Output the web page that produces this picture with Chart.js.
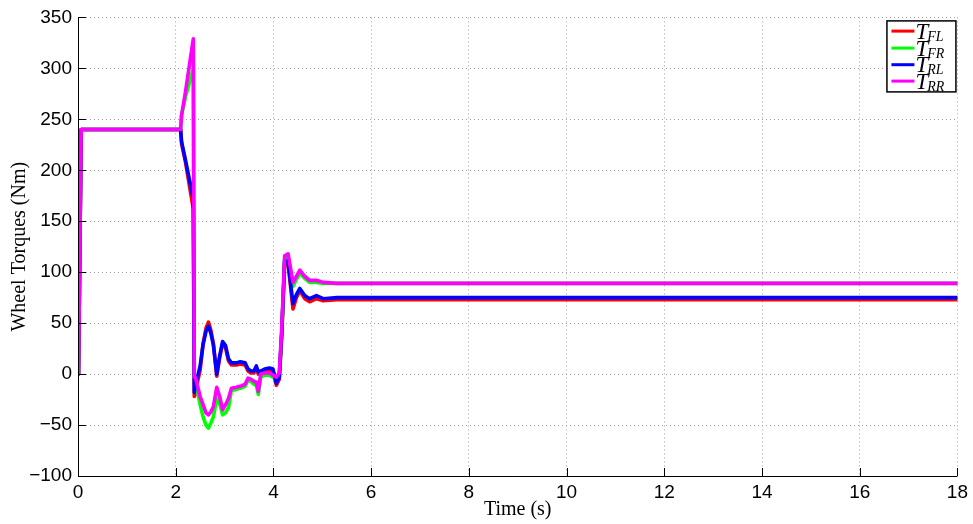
<!DOCTYPE html>
<html>
<head>
<meta charset="utf-8">
<script src="https://cdn.jsdelivr.net/npm/chart.js@4.4.1/dist/chart.umd.min.js"></script>
<style>
  html, body { margin: 0; padding: 0; background: #ffffff; }
  #wrap { width: 973px; height: 524px; }
</style>
</head>
<body>
<div id="wrap"><canvas id="c" width="973" height="524"></canvas></div>
<script>
// Sample times (s), shared by all four wheel torque traces
const timeS = [
  0.01, 0.065, 2.10, 2.12, 2.20, 2.36, 2.38, 2.40, 2.45, 2.50,
  2.56, 2.62, 2.67, 2.72, 2.77, 2.84, 2.90, 2.96, 3.02, 3.08,
  3.14, 3.24, 3.32, 3.42, 3.48, 3.54, 3.60, 3.65, 3.69, 3.74,
  3.82, 3.92, 3.99, 4.06, 4.12, 4.17, 4.23, 4.30, 4.40, 4.47,
  4.54, 4.64, 4.74, 4.88, 5.02, 5.30, 18
];

// Wheel torques (Nm)
const torqueFL = [
  0, 240, 240, 226, 208, 162, -22, -20, -7, 4,
  30, 45, 51, 43, 30, -2, 16, 30, 26, 13,
  9, 9, 10, 9, 3, 1, 1, 6, 0, 1,
  3, 4, 3, -11, -5, 38, 110, 108, 64, 75,
  82, 74, 71, 74, 72, 73, 73
];
const torqueFR = [
  0, 240, 240, 254, 272, 300, -5, -4, -18, -30,
  -42, -50, -53, -48, -42, -24, -29, -40, -38, -33,
  -16, -15, -14, -12, -6, -7, -10, -11, -20, -3,
  -1, -1, -3, -5, -1, 40, 114, 116, 86, 93,
  99, 94, 90, 90, 89, 89, 89
];
const torqueRL = [
  0, 240, 240, 228, 210, 172, -18, -12, -2, 8,
  29, 42, 47, 40, 29, 0, 18, 32, 28, 15,
  11, 11, 12, 11, 5, 3, 3, 8, 2, 3,
  5, 6, 5, -9, -3, 40, 112, 110, 69, 78,
  84, 77, 74, 77, 74, 75, 75
];
const torqueRR = [
  0, 240, 240, 254, 277, 329, -3, -3, -12, -22,
  -30, -38, -40, -37, -32, -13, -22, -35, -30, -24,
  -14, -13, -12, -10, -4, -5, -7, -8, -17, 0,
  1, 1, -1, -3, 1, 45, 116, 118, 90, 96,
  102, 96, 92, 92, 90, 89, 89
];

const seriesSubs = ['FL', 'FR', 'RL', 'RR'];
const seriesColors = ['#ff0000', '#00ff00', '#0000ff', '#ff00ff'];
const xTicks = [0, 2, 4, 6, 8, 10, 12, 14, 16, 18];
const yTicks = [-100, -50, 0, 50, 100, 150, 200, 250, 300, 350];

const seriesValues = [torqueFL, torqueFR, torqueRL, torqueRR];

const datasets = seriesValues.map((vals, i) => ({
  label: 'T_' + seriesSubs[i],
  data: vals.map((v, k) => ({ x: timeS[k], y: v })),
  borderColor: seriesColors[i],
  backgroundColor: seriesColors[i],
  borderWidth: 3.6,
  pointRadius: 0,
  tension: 0,
  fill: false,
  borderJoinStyle: 'round',
  borderCapStyle: 'round',
  order: 3 - i            // later wheels drawn on top
}));

const minus = s => String(s).replace('-', '\u2212');

// Axis lines, inward tick marks and the subscripted legend box
const axesAndLegend = {
  id: 'axesAndLegend',
  afterDraw(chart) {
    const { ctx, chartArea: a, scales } = chart;
    ctx.save();
    ctx.strokeStyle = '#000';
    ctx.lineWidth = 1;
    ctx.beginPath();
    ctx.moveTo(a.left + 0.5, a.top);
    ctx.lineTo(a.left + 0.5, a.bottom + 0.5);
    ctx.lineTo(a.right, a.bottom + 0.5);
    ctx.stroke();
    const tl = 8;
    ctx.beginPath();
    yTicks.forEach(v => {
      const py = Math.round(scales.y.getPixelForValue(v)) + 0.5;
      ctx.moveTo(a.left, py);
      ctx.lineTo(a.left + tl, py);
    });
    xTicks.forEach(v => {
      const px = Math.round(scales.x.getPixelForValue(v)) + 0.5;
      ctx.moveTo(px, a.bottom);
      ctx.lineTo(px, a.bottom - tl);
    });
    ctx.stroke();

    // legend
    const bx = a.right - 71, by = a.top + 3, bw = 69, bh = 71;
    ctx.fillStyle = '#fff';
    ctx.fillRect(bx, by, bw, bh);
    ctx.lineWidth = 1.5;
    ctx.strokeStyle = '#000';
    ctx.strokeRect(bx + 0.5, by + 0.5, bw, bh);
    const rowY = [by + 10.7, by + 27.7, by + 44.3, by + 60.7];
    seriesSubs.forEach((sub, i) => {
      const ry = rowY[i];
      ctx.strokeStyle = seriesColors[i];
      ctx.lineWidth = 3;
      ctx.beginPath();
      ctx.moveTo(bx + 5, ry);
      ctx.lineTo(bx + 28, ry);
      ctx.stroke();
      ctx.fillStyle = '#000';
      ctx.textAlign = 'left';
      ctx.textBaseline = 'alphabetic';
      ctx.font = 'italic 23px "Liberation Serif", "DejaVu Serif", serif';
      ctx.fillText('T', bx + 29, ry + 7.5);
      const tw = ctx.measureText('T').width;
      ctx.font = 'italic 14px "Liberation Serif", "DejaVu Serif", serif';
      ctx.fillText(sub, bx + 29 + tw - 1, ry + 9.5);
    });
    ctx.restore();
  }
};

const tickFont = { family: '"Liberation Sans", Arial, Helvetica, sans-serif', size: 19 };
const titleFont = { family: '"Liberation Serif", "DejaVu Serif", serif', size: 20 };

new Chart(document.getElementById('c'), {
  type: 'line',
  data: { datasets },
  plugins: [axesAndLegend],
  options: {
    responsive: false,
    devicePixelRatio: 1,
    animation: false,
    layout: { padding: { top: 12, right: 15, left: 0, bottom: 0 } },
    plugins: { legend: { display: false }, tooltip: { enabled: false } },
    scales: {
      x: {
        type: 'linear',
        min: 0, max: 18,
        afterBuildTicks: s => { s.ticks = xTicks.map(v => ({ value: v })); },
        afterFit: s => { s.height = 48; },
        ticks: { font: tickFont, color: '#000', padding: 5, maxRotation: 0, callback: v => minus(v) },
        grid: { color: '#a0a0a0', lineWidth: 1, drawTicks: false },
        border: { display: false, dash: [1, 3] },
        title: { display: true, text: 'Time (s)', font: titleFont, color: '#000', padding: { top: 0, bottom: 2 } }
      },
      y: {
        type: 'linear',
        min: -100, max: 350,
        afterBuildTicks: s => { s.ticks = yTicks.map(v => ({ value: v })); },
        afterFit: s => { s.width = 78; },
        ticks: { font: tickFont, color: '#000', padding: 6, callback: v => minus(v) },
        grid: { color: '#a0a0a0', lineWidth: 1, drawTicks: false },
        border: { display: false, dash: [1, 3] },
        title: { display: true, text: 'Wheel Torques (Nm)', font: titleFont, color: '#000', padding: { top: 8, bottom: 0 } }
      }
    }
  }
});
</script>
</body>
</html>
